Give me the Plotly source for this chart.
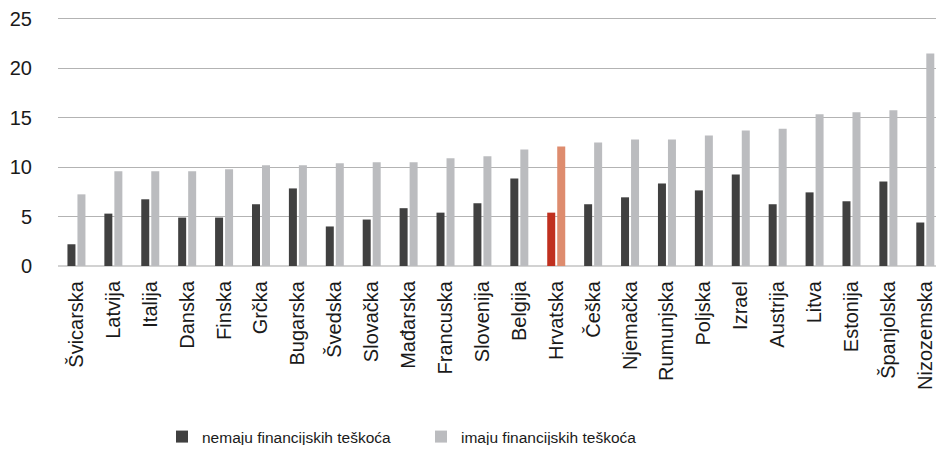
import plotly.graph_objects as go

countries = ["Švicarska", "Latvija", "Italija", "Danska", "Finska", "Grčka", "Bugarska",
             "Švedska", "Slovačka", "Mađarska", "Francuska", "Slovenija", "Belgija",
             "Hrvatska", "Češka", "Njemačka", "Rumunjska", "Poljska", "Izrael",
             "Austrija", "Litva", "Estonija", "Španjolska", "Nizozemska"]
no_difficulty = [2.2, 5.3, 6.75, 4.9, 4.9, 6.25, 7.85, 4.0, 4.7, 5.85, 5.4, 6.35, 8.85,
                 5.4, 6.25, 6.95, 8.35, 7.65, 9.25, 6.25, 7.45, 6.55, 8.55, 4.4]
with_difficulty = [7.25, 9.6, 9.6, 9.6, 9.8, 10.2, 10.2, 10.4, 10.5, 10.5, 10.9, 11.1, 11.8,
                   12.1, 12.5, 12.8, 12.8, 13.2, 13.7, 13.9, 15.35, 15.55, 15.75, 21.5]
y_ticks = [0, 5, 10, 15, 20, 25]
series_names = ["nemaju financijskih teškoća", "imaju financijskih teškoća"]
highlight = "Hrvatska"

dark = "#404040"
light = "#bbbcbf"
dark_hl = "#c0301f"
light_hl = "#de8c6e"

c1 = [dark_hl if c == highlight else dark for c in countries]
c2 = [light_hl if c == highlight else light for c in countries]

fig = go.Figure()
fig.add_trace(go.Bar(x=countries, y=no_difficulty, name=series_names[0],
                     marker=dict(color=c1, line=dict(width=0))))
fig.add_trace(go.Bar(x=countries, y=with_difficulty, name=series_names[1],
                     marker=dict(color=c2, line=dict(width=0))))

# the page body has an 8px margin on every side, so the figure fits inside it
W, H = 928, 437
fig.update_layout(
    width=W, height=H,
    margin=dict(l=50, r=0, t=6, b=179, autoexpand=False),
    paper_bgcolor="white", plot_bgcolor="white",
    barmode="group", bargap=0.458, bargroupgap=0.2,
    font=dict(family="Liberation Sans, Arial, sans-serif", color="#1a1a1a", size=20),
    showlegend=True,
    legend=dict(orientation="h", xref="container", x=154 / W, xanchor="left",
                yref="container", y=1 - 429 / H, yanchor="middle",
                font=dict(size=15.5), entrywidth=214, traceorder="normal"),
    xaxis=dict(type="category", range=[-0.5, 23.29], tickangle=-90, automargin=False,
               showgrid=False, showline=False, ticks="", ticklabelstandoff=10),
    yaxis=dict(range=[0, 25.5], tickvals=y_ticks, showgrid=True, gridcolor="#b3b3b3",
               gridwidth=1, zeroline=True, zerolinecolor="#d2d2d2", zerolinewidth=2,
               ticks="", ticklabelstandoff=25, ticklabeloverflow="allow",
               showline=False, automargin=False),
)
fig.write_html("out.html")
